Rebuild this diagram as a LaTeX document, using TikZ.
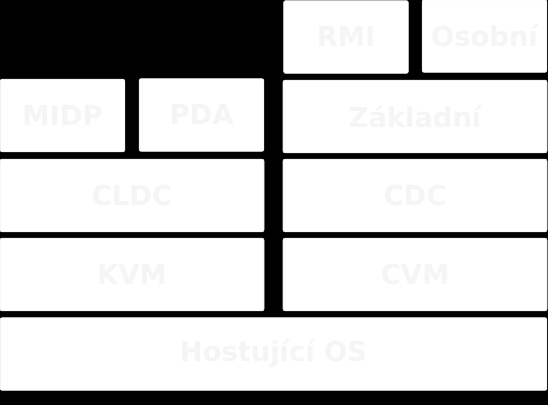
\documentclass[tikz,border=0pt]{standalone}
\usepackage{fontspec}
\setmainfont{DejaVu Sans}
\begin{document}
\begin{tikzpicture}[x=0.75pt,y=-0.75pt,
  layer/.style={draw=black!8, line width=0.5pt, fill=white, rounded corners=1.5pt,
    text=black!4, font=\bfseries\fontsize{20.5}{24}\selectfont, inner sep=0pt},
  halfw/.style={minimum width=93.5pt},
  fullw/.style={minimum width=198pt},
  allw/.style={minimum width=410pt},
  rowh/.style={minimum height=54.5pt}]
\useasboundingbox (0,0) rectangle (548,405);
\fill[black] (0,0) rectangle (548,405);
\node[layer,halfw,rowh] (rmi) at (346,37) {RMI};
\node[layer,halfw,rowh] (osobni) at (484.5,36) {Osobní};
\node[layer,fullw,rowh] (zakladni) at (415,116.5) {Základní};
\node[layer,halfw,rowh] (midp) at (62.5,115.5) {MIDP};
\node[layer,halfw,rowh] (pda) at (201.5,115) {PDA};
\node[layer,fullw,rowh] (cldc) at (132,195.5) {CLDC};
\node[layer,fullw,rowh] (cdc) at (415,195.5) {CDC};
\node[layer,fullw,rowh] (kvm) at (132,274.5) {KVM};
\node[layer,fullw,rowh] (cvm) at (415,274.5) {CVM};
\node[layer,allw,rowh] (os) at (273.5,354) {Hostující OS};
\end{tikzpicture}
\end{document}
